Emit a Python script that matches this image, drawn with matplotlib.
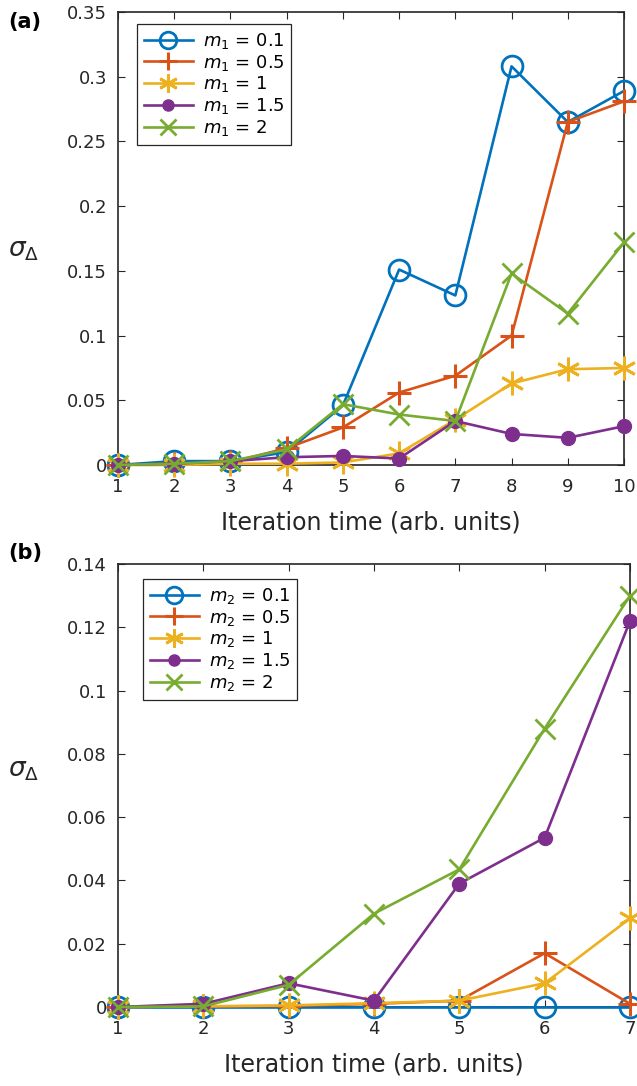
import matplotlib
matplotlib.use("Agg")
import matplotlib.pyplot as plt
from matplotlib.ticker import FuncFormatter

plt.rcParams['font.family'] = ['DejaVu Sans']
plt.rcParams['mathtext.fontset'] = 'dejavusans'

# ---- data ----
iter_a = [1, 2, 3, 4, 5, 6, 7, 8, 9, 10]
a_m01 = [0, 0.003, 0.003, 0.010, 0.046, 0.151, 0.131, 0.308, 0.265, 0.289]
a_m05 = [0, 0.001, 0.002, 0.013, 0.029, 0.056, 0.069, 0.100, 0.265, 0.281]
a_m1 = [0, 0.000, 0.001, 0.001, 0.002, 0.009, 0.035, 0.063, 0.074, 0.075]
a_m15 = [0, 0.001, 0.003, 0.006, 0.007, 0.005, 0.034, 0.024, 0.021, 0.030]
a_m2 = [0, 0.001, 0.003, 0.012, 0.047, 0.039, 0.034, 0.148, 0.117, 0.172]
labels_a = ['0.1', '0.5', '1', '1.5', '2']

iter_b = [1, 2, 3, 4, 5, 6, 7]
b_m01 = [0, 0, 0, 0, 0, 0, 0]
b_m05 = [0, 0.0002, 0.0003, 0.0010, 0.0020, 0.0170, 0.0010]
b_m1 = [0, 0.0002, 0.0005, 0.0012, 0.0020, 0.0075, 0.0280]
b_m15 = [0, 0.0010, 0.0075, 0.0020, 0.0390, 0.0535, 0.1220]
b_m2 = [0, 0.0002, 0.0070, 0.0295, 0.0435, 0.0880, 0.1300]
labels_b = ['0.1', '0.5', '1', '1.5', '2']

colors = ['#0072BD', '#D95319', '#EDB120', '#7E2F8E', '#77AC30']
styles = [
    dict(marker='o', ms=15, mfc='none', mew=2.0),
    dict(marker='+', ms=17, mew=2.2),
    dict(marker=(6, 2, 0), ms=17, mew=2.0),
    dict(marker='o', ms=10, mfc=None),
    dict(marker='x', ms=14, mew=2.0),
]

fig = plt.figure(figsize=(6.37, 10.86), dpi=100)
axa = fig.add_axes([118/637, 1-465/1086, 506/637, 453/1086])
axb = fig.add_axes([118/637, 1-1007/1086, 512/637, 443/1086])

def fmt(v, pos):
    s = ('%.2f' % v).rstrip('0').rstrip('.')
    return s if s else '0'

def draw(ax, x, series, labels, sub, xlim, ylim, yticks, leg_bbox):
    for ys, c, st, lab in zip(series, colors, styles, labels):
        kw = dict(st)
        if 'mfc' in kw and kw['mfc'] is None:
            kw['mfc'] = c
        ax.plot(x, ys, color=c, lw=1.9, label=r'$m_{%s}$ = %s' % (sub, lab),
                mec=c, clip_on=False, **kw)
    ax.set_xlim(*xlim)
    ax.set_ylim(*ylim)
    ax.set_xticks(x)
    ax.set_yticks(yticks)
    ax.yaxis.set_major_formatter(FuncFormatter(fmt))
    ax.tick_params(direction='in', top=True, right=True, labelsize=13,
                   length=5, width=0.8, colors='#262626')
    ax.tick_params(axis='x', pad=9)
    ax.tick_params(axis='y', pad=8)
    for sp in ax.spines.values():
        sp.set_linewidth(1.2)
        sp.set_color('#262626')
        sp.set_zorder(0.5)
    ax.set_xlabel('Iteration time (arb. units)', fontsize=17, color='#262626', labelpad=11)
    leg = ax.legend(loc='upper left', bbox_to_anchor=leg_bbox, fontsize=13,
                    handlelength=2.7, handletextpad=0.55, borderpad=0.38,
                    borderaxespad=0, labelspacing=0.1, fancybox=False,
                    edgecolor='#262626', framealpha=1, markerscale=0.8)
    leg.get_frame().set_linewidth(0.9)
    leg.set_zorder(5)

draw(axa, iter_a, [a_m01, a_m05, a_m1, a_m15, a_m2], labels_a, '1',
     (1, 10), (0, 0.35), [0, 0.05, 0.1, 0.15, 0.2, 0.25, 0.3, 0.35],
     ((137-118)/506, (465-24)/453))
draw(axb, iter_b, [b_m01, b_m05, b_m1, b_m15, b_m2], labels_b, '2',
     (1, 7), (0, 0.14), [0, 0.02, 0.04, 0.06, 0.08, 0.1, 0.12, 0.14],
     ((143-118)/512, (1007-579)/443))

for y in (250, 770):
    fig.text(8/637, 1-y/1086, r'$\sigma_{\Delta}$', fontsize=19, color='#262626',
             va='center', ha='left')

fig.text(8/637, 1-22/1086, '(a)', fontsize=15, fontweight='bold', va='center')
fig.text(8/637, 1-553/1086, '(b)', fontsize=15, fontweight='bold', va='center')

fig.savefig('out.png', dpi=100)
